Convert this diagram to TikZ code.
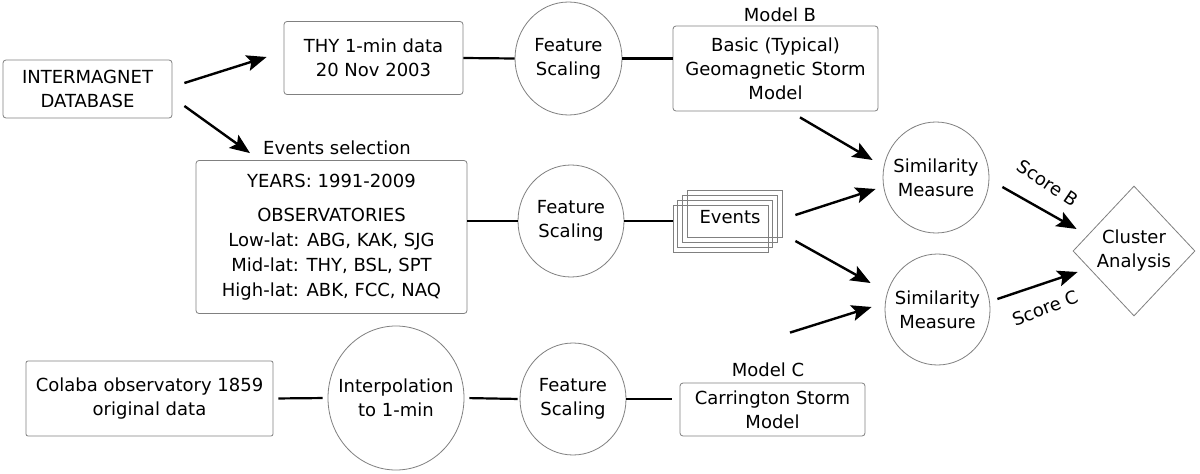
\documentclass[tikz,border=0pt]{standalone}
\usepackage{fontspec}
\setmainfont{DejaVu Sans}
\usetikzlibrary{arrows.meta,shapes.geometric}
\begin{document}
\begin{tikzpicture}[x=1pt,y=-1pt,
  every node/.style={font=\fontsize{18}{24}\selectfont, text=black},
  box/.style={draw=black!50, line width=0.8pt, rounded corners=3pt, align=center, inner sep=0pt},
  oval/.style={draw=black!50, line width=0.8pt, ellipse, align=center, inner sep=-14pt},
  stk/.style={draw=black!50, line width=0.8pt, minimum width=95, minimum height=47, inner sep=0pt},
  link/.style={line width=2.2pt, black},
  arr/.style={line width=2.4pt, black, -{Stealth[length=20pt,width=16pt,inset=4pt]}}]
\path[use as bounding box, fill=white] (0,0) rectangle (1200,474);

% row 1
\node[box, minimum width=169, minimum height=58] (im) at (87.5,89) {INTERMAGNET\\DATABASE};
\node[box, minimum width=179, minimum height=73] (thy) at (373.5,58) {THY 1-min data\\20 Nov 2003};
\node[oval, minimum width=107, minimum height=113] (fs1) at (568.5,58.5) {Feature\\Scaling};
\node[box, minimum width=205, minimum height=85] (mb) at (775.5,68.5) {Basic (Typical)\\Geomagnetic Storm\\Model};
\node (mbl) at (780,15) {Model B};

% row 2
\node (evsel) at (337,148) {Events selection};
\node[box, minimum width=271, minimum height=153, font=\fontsize{18}{25}\selectfont] (ev) at (331.5,237)
  {YEARS: 1991-2009\\[9pt]OBSERVATORIES\\Low-lat: ABG, KAK, SJG\\Mid-lat: THY, BSL, SPT\\High-lat: ABK, FCC, NAQ};
\node[oval, minimum width=106, minimum height=112] (fs2) at (571,221) {Feature\\Scaling};
\node[stk] (evs3) at (734.6,213.5) {};
\node[stk] (evs2) at (729.9,218.5) {};
\node[stk] (evs1) at (725.2,223.5) {};
\node[stk] (evs) at (720.5,228.5) {};
\node (evt) at (730,217) {Events};

% row 3
\node[box, rounded corners=2pt, minimum width=247, minimum height=75] (col) at (149.5,398.5) {Colaba observatory 1859\\original data};
\node[oval, inner sep=-16pt, minimum width=136, minimum height=144] (ip) at (396,398) {Interpolation\\to 1-min};
\node[oval, minimum width=106, minimum height=112] (fs3) at (573,399) {Feature\\Scaling};
\node[box, minimum width=185, minimum height=53] (mc) at (772.5,409.5) {Carrington Storm\\Model};
\node (mcl) at (768,370) {Model C};

% right part
\node[oval, minimum width=106, minimum height=111] (sim1) at (936,177.5) {Similarity\\Measure};
\node[oval, minimum width=105, minimum height=111] (sim2) at (937.5,309.5) {Similarity\\Measure};
\node[draw=black!50, line width=0.8pt, diamond, align=center, inner sep=0pt, minimum width=122, minimum height=130] (cl) at (1134,251) {Cluster\\Analysis};
\node[rotate=-34] (sb) at (1048,183) {Score B};
\node[rotate=21] (sc) at (1045,308) {Score C};

% plain links
\draw[link] (thy.east) -- (fs1.west);
\draw[link] (fs1.east) -- (fs1.east -| mb.west);
\draw[link] (fs2.west -| ev.east) -- (fs2.west);
\draw[link] (fs2.east) -- (fs2.east -| evs.west);
\draw[link, shorten <=5pt, shorten >=5pt] (col.east) -- (ip.west);
\draw[link, shorten <=5pt, shorten >=2pt] (ip.east) -- (fs3.west);
\draw[link, shorten >=8pt] (fs3.east) -- (fs3.east -| mc.west);

% arrows
\draw[arr] ([shift={(12,-6)}]im.east) -- ([shift={(-17,-1)}]thy.west);
\draw[arr] ([shift={(12,17)}]im.east) -- ([shift={(-81.5,-7)}]ev.north);
\draw[arr] ([shift={(24.5,6)}]mb.south) -- ([shift={(-10,-17.5)}]sim1.west);
\draw[arr] ([shift={(27,-13.5)}]evs.east) -- ([shift={(-7,11.5)}]sim1.west);
\draw[arr] ([shift={(27,12.5)}]evs.east) -- ([shift={(-14,-26.5)}]sim2.west);
\draw[arr] ([shift={(17.5,-50)}]mc.north) -- ([shift={(-13,-2.5)}]sim2.west);
\draw[arr] ([shift={(13,9.5)}]sim1.east) -- ([shift={(4,-22)}]cl.west);
\draw[arr] ([shift={(7,-10.5)}]sim2.east) -- ([shift={(5,21)}]cl.west);
\end{tikzpicture}
\end{document}
